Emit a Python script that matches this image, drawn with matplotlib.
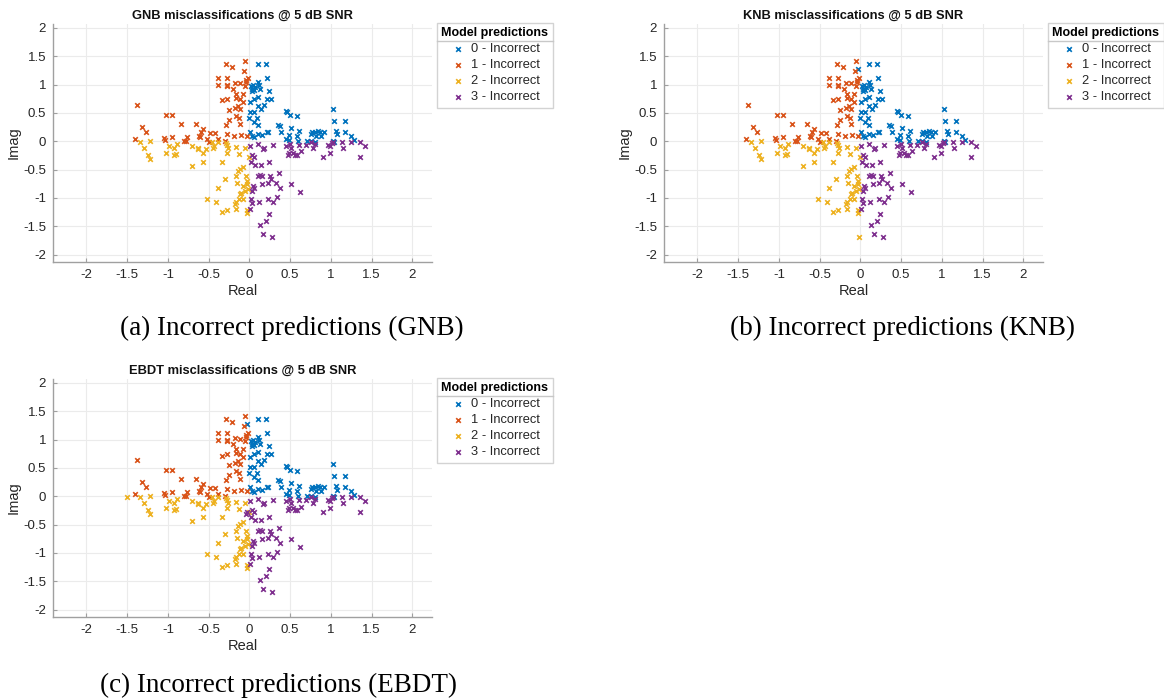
import matplotlib.pyplot as plt
from matplotlib.lines import Line2D
import numpy as np

plt.rcParams['font.family'] = ['Liberation Sans', 'DejaVu Sans']
plt.rcParams['axes.unicode_minus'] = False

# misclassified symbols (GNB)
re_0 = [0.10, 0.20, 0.21, 0.02, 0.04, 0.03, 0.05, 0.07, 0.12, 0.13, 0.10, 0.03, 0.24, 0.26,
        0.06, 0.01, 0.10, 0.18, 0.14, 0.10, 0.21, 0.01, 0.05, 0.00, 0.09, 0.06, 0.10, 0.45,
        0.46, 0.50, 0.58, 1.03, 1.04, 1.17, 0.35, 0.37, 0.51, 0.61, 0.39, 0.01, 0.03, 0.06,
        0.10, 0.16, 0.21, 0.23, 0.49, 0.45, 0.48, 0.58, 0.59, 0.71, 0.75, 0.77, 0.80, 0.82,
        0.84, 0.86, 0.88, 0.91, 0.75, 0.80, 1.06, 1.07, 1.17, 1.25, 1.28, 1.03, 1.04]
im_0 = [1.36, 1.37, 1.12, 0.97, 1.00, 0.93, 0.91, 0.95, 1.00, 0.93, 1.05, 0.88, 0.89, 0.75,
        0.75, 0.70, 0.63, 0.64, 0.57, 0.79, 0.75, 0.51, 0.51, 0.41, 0.41, 0.34, 0.29, 0.54,
        0.51, 0.46, 0.44, 0.57, 0.35, 0.36, 0.28, 0.27, 0.24, 0.19, 0.16, 0.16, 0.10, 0.08,
        0.13, 0.11, 0.17, 0.16, 0.11, 0.04, 0.03, 0.10, 0.01, 0.01, 0.13, 0.17, 0.16, 0.10,
        0.19, 0.16, 0.10, 0.17, 0.01, -0.01, 0.19, 0.12, 0.16, 0.10, 0.03, 0.00, -0.01]

re_1 = [-0.05, -0.29, -0.21, -0.07, -0.38, -0.27, -0.02, -0.04, -0.04, -0.18, -0.38, -0.27,
        -0.28, -0.12, -0.05, -0.20, -0.08, -0.17, -0.17, -0.11, -0.28, -0.34, -0.08, -0.14,
        -0.18, -0.25, -0.11, -1.38, -1.02, -0.95, -0.17, -0.13, -0.25, -0.12, -0.29, -0.84,
        -0.66, -1.32, -1.27, -0.57, -0.60, -0.48, -0.42, -0.62, -0.61, -0.76, -0.95, -1.05,
        -1.03, -1.40, -0.80, -0.78, -0.28, -0.19, -0.10, -0.03, -0.52, -0.38, -0.30, -0.49]
im_1 = [1.41, 1.36, 1.31, 1.24, 1.11, 1.11, 1.11, 1.08, 1.04, 1.03, 0.99, 0.99, 0.98, 1.02,
        0.98, 0.92, 0.84, 0.84, 0.77, 0.75, 0.75, 0.72, 0.69, 0.62, 0.59, 0.56, 0.57, 0.64,
        0.47, 0.46, 0.44, 0.41, 0.38, 0.31, 0.28, 0.30, 0.30, 0.25, 0.17, 0.22, 0.16, 0.14,
        0.14, 0.10, 0.07, 0.08, 0.07, 0.05, 0.03, 0.04, 0.01, 0.00, 0.13, 0.10, 0.11, 0.09,
        0.04, 0.04, 0.00, -0.02]

re_2 = [-1.34, -1.22, -1.29, -1.25, -1.22, -1.02, -0.99, -0.93, -0.93, -0.90, -0.89, -0.71,
        -0.71, -0.63, -0.63, -0.57, -0.53, -0.57, -0.46, -0.44, -0.45, -0.38, -0.29, -0.27,
        -0.26, -0.27, -0.17, -0.13, -0.05, -0.01, -0.34, -0.12, -0.08, -0.14, -0.30, -0.17,
        -0.15, -0.04, -0.03, -0.03, -0.08, -0.10, -0.11, -0.06, -0.02, -0.38, -0.13, -0.17,
        -0.08, -0.18, -0.17, -0.52, -0.41, -0.34, -0.27, -0.03, -0.03]
im_2 = [-0.01, 0.01, -0.11, -0.25, -0.31, -0.21, -0.08, -0.11, -0.25, -0.22, -0.05, -0.08,
        -0.43, -0.12, -0.14, -0.21, -0.14, -0.36, -0.01, -0.08, -0.11, -0.01, -0.03, -0.06,
        -0.12, -0.21, -0.10, -0.22, -0.11, -0.27, -0.36, -0.49, -0.46, -0.52, -0.66, -0.62,
        -0.73, -0.62, -0.70, -0.76, -0.79, -0.91, -0.93, -0.88, -0.85, -0.83, -1.01, -1.07,
        -1.02, -1.11, -1.19, -1.02, -1.07, -1.24, -1.21, -1.21, -1.27]

re_3 = [0.01, 0.10, 0.18, 0.17, 0.29, 0.03, 0.05, 0.02, 0.14, 0.07, 0.24, 0.45, 0.50, 0.51,
        0.49, 0.53, 0.56, 0.58, 0.47, 0.63, 0.61, 0.70, 0.75, 0.80, 0.78, 0.90, 0.97, 0.99,
        1.01, 1.03, 0.99, 1.14, 1.15, 1.25, 1.36, 1.42, 1.36, 0.36, 0.13, 0.11, 0.15, 0.25,
        0.27, 0.16, 0.23, 0.32, 0.37, 0.51, 0.62, 0.04, 0.06, 0.03, 0.02, 0.03, 0.01, 0.12,
        0.23, 0.29, 0.34, 0.24, 0.20, 0.13, 0.17, 0.28]
im_3 = [-0.08, -0.05, -0.11, -0.14, -0.06, -0.24, -0.27, -0.36, -0.41, -0.41, -0.36, -0.08,
        -0.05, -0.11, -0.20, -0.21, -0.24, -0.24, -0.24, -0.18, -0.06, -0.06, -0.02, -0.05,
        -0.11, -0.27, -0.06, -0.08, -0.03, -0.02, -0.21, -0.02, -0.12, -0.02, -0.01, -0.09,
        -0.27, -0.56, -0.60, -0.61, -0.61, -0.61, -0.67, -0.75, -0.74, -0.73, -0.83, -0.76,
        -0.89, -0.79, -0.83, -0.88, -1.01, -1.08, -1.20, -1.07, -1.01, -1.07, -0.98, -1.29,
        -1.41, -1.47, -1.64, -1.69]

# points that only show up for the other two models
knb_extra = {0: ([-0.03], [1.27]), 2: ([-0.02], [-1.69])}
ebdt_extra = {0: ([-0.03], [1.28]), 2: ([-1.50], [-0.01]), 3: ([-0.03, -0.04], [-0.28, -0.31])}

models = ['GNB', 'KNB', 'EBDT']
captions = ['(a) Incorrect predictions (GNB)', '(b) Incorrect predictions (KNB)',
            '(c) Incorrect predictions (EBDT)']
class_labels = ['0 - Incorrect', '1 - Incorrect', '2 - Incorrect', '3 - Incorrect']
colors = ['#0072BD', '#D95319', '#EDB120', '#7E2F8E']
ticks = [-2, -1.5, -1, -0.5, 0, 0.5, 1, 1.5, 2]
tick_labels = ['-2', '-1.5', '-1', '-0.5', '0', '0.5', '1', '1.5', '2']

base = {0: (re_0, im_0), 1: (re_1, im_1), 2: (re_2, im_2), 3: (re_3, im_3)}
extras = {'GNB': {}, 'KNB': knb_extra, 'EBDT': ebdt_extra}

W, H = 1164, 700
fig = plt.figure(figsize=(W / 100, H / 100), dpi=100)

# axes boxes in pixels: left, top, right, bottom
boxes = [(53, 24, 432, 262), (664, 24, 1043, 262), (53, 379, 432, 617)]
cap_pos = [(292, 328), (903, 328), (278, 685)]
axis_col = '#a0a0a0'
text_col = '#262626'

for k, m in enumerate(models):
    l, t, r, b = boxes[k]
    ax = fig.add_axes([l / W, 1 - b / H, (r - l) / W, (b - t) / H])
    for c in range(4):
        xs = list(base[c][0]) + list(extras[m].get(c, ([], []))[0])
        ys = list(base[c][1]) + list(extras[m].get(c, ([], []))[1])
        ax.scatter(xs, ys, marker='x', s=11, linewidths=1.2, color=colors[c],
                   label=class_labels[c], zorder=3)
    ax.set_xlim(-2.41, 2.24)
    ax.set_ylim(-2.13, 2.07)
    ax.set_xticks(ticks)
    ax.set_xticklabels(tick_labels)
    ax.set_yticks(ticks)
    ax.set_yticklabels(tick_labels)
    ax.grid(True, color='#ebebeb', linewidth=0.8)
    ax.set_axisbelow(True)
    for s in ['top', 'right']:
        ax.spines[s].set_visible(False)
    for s in ['left', 'bottom']:
        ax.spines[s].set_color(axis_col)
        ax.spines[s].set_linewidth(1.0)
    ax.tick_params(direction='in', length=3, color=axis_col, labelsize=9.5,
                   labelcolor=text_col, pad=5)
    ax.set_xlabel('Real', fontsize=10.5, color=text_col, labelpad=2)
    ax.set_ylabel('Imag', fontsize=10.5, color=text_col, labelpad=2)
    ax.set_title(m + ' misclassifications @ 5 dB SNR', fontsize=9.3, fontweight='bold',
                 color='#111111', pad=4)
    leg = ax.legend(loc='upper left', bbox_to_anchor=(1.013, 1.005), borderaxespad=0,
                    fontsize=9.3, title='Model predictions',
                    title_fontproperties={'weight': 'bold', 'size': 9},
                    frameon=True, fancybox=False, edgecolor='#c8c8c8', borderpad=0.35,
                    handletextpad=0.4, labelspacing=0.3, handlelength=1.2,
                    markerscale=1.0)
    leg.get_frame().set_linewidth(1.0)
    for txt in leg.get_texts():
        txt.set_color(text_col)

    fig.text(cap_pos[k][0] / W, 1 - cap_pos[k][1] / H, captions[k], ha='center', va='center',
             fontsize=19.5, family='Liberation Serif')

# line under each legend title, like the original
fig.canvas.draw()
for ax in fig.axes:
    leg = ax.get_legend()
    fb = leg.get_frame().get_window_extent()
    tb = leg.get_title().get_window_extent()
    yline = (tb.y0 - 2) / H
    fig.add_artist(Line2D([fb.x0 / W, fb.x1 / W], [yline, yline], color='#c8c8c8',
                          linewidth=1.0))

fig.savefig('out.png', dpi=100)
